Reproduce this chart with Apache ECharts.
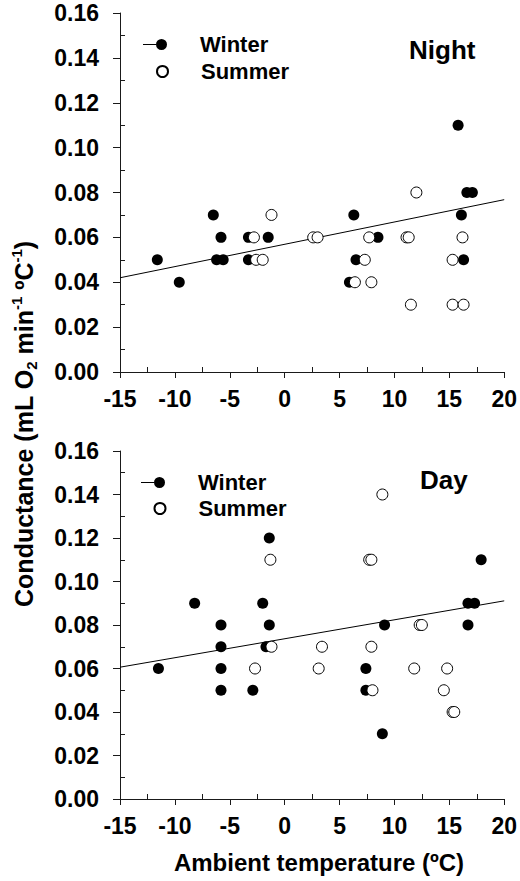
<!DOCTYPE html>
<html>
<head>
<meta charset="utf-8">
<script src="https://cdn.jsdelivr.net/npm/echarts@6/dist/echarts.min.js"></script>
<style>
html,body{margin:0;padding:0;background:#fff;}
#chart{width:520px;height:881px;}
</style>
</head>
<body>
<div id="chart"></div>
<script>
// ---- data ----
var xTicks = [-15, -10, -5, 0, 5, 10, 15, 20];
var yTicks = [0, 0.02, 0.04, 0.06, 0.08, 0.10, 0.12, 0.14, 0.16];

var nightWinterT = [-11.6, -9.6, -6.5, -5.8, -6.2, -5.6, -3.3, -3.3, -1.5, 6.3, 6.5, 5.9, 8.5, 15.8, 16.1, 16.3, 16.6, 17.1];
var nightWinterG = [0.05, 0.04, 0.07, 0.06, 0.05, 0.05, 0.06, 0.05, 0.06, 0.07, 0.05, 0.04, 0.06, 0.11, 0.07, 0.05, 0.08, 0.08];
var nightSummerT = [-2.8, -2.6, -2.0, -1.2, 2.6, 3.0, 6.4, 7.3, 7.7, 7.9, 11.1, 11.3, 12.0, 11.5, 15.3, 16.2, 15.3, 16.3];
var nightSummerG = [0.06, 0.05, 0.05, 0.07, 0.06, 0.06, 0.04, 0.05, 0.06, 0.04, 0.06, 0.06, 0.08, 0.03, 0.05, 0.06, 0.03, 0.03];
var nightFitT = [-15, 20];
var nightFitG = [0.042, 0.0768];

var dayWinterT = [-11.5, -8.2, -5.8, -5.8, -5.8, -5.8, -2.9, -2.0, -1.4, -1.4, -1.7, 7.4, 7.4, 9.1, 8.9, 16.7, 17.3, 16.7, 17.9];
var dayWinterG = [0.06, 0.09, 0.08, 0.07, 0.06, 0.05, 0.05, 0.09, 0.08, 0.12, 0.07, 0.06, 0.05, 0.08, 0.03, 0.09, 0.09, 0.08, 0.11];
var daySummerT = [-2.7, -1.2, 3.4, 3.1, 7.9, 8.0, 11.8, 12.3, 12.5, 14.8, 14.5, 15.3, 15.45, -1.3, 7.7, 7.9, 8.9];
var daySummerG = [0.06, 0.07, 0.07, 0.06, 0.07, 0.05, 0.06, 0.08, 0.08, 0.06, 0.05, 0.04, 0.04, 0.11, 0.11, 0.11, 0.14];
var dayFitT = [-15, 20];
var dayFitG = [0.0606, 0.0911];

var panelTitles = ['Night', 'Day'];
var seriesNames = ['Winter', 'Summer'];

// ---- build ----
function zip(a, b) { return a.map(function (v, i) { return [v, b[i]]; }); }
var FONT = 'Liberation Sans, Arial, sans-serif';
var AX = '#1a1a1a';

function xAxisCfg(gi) {
  return {
    type: 'value', gridIndex: gi, min: xTicks[0], max: xTicks[xTicks.length - 1], interval: 5,
    axisLine: { show: true, onZero: false, lineStyle: { color: AX, width: 1 } },
    axisTick: { show: true, length: 6, lineStyle: { color: AX } },
    minorTick: { show: true, splitNumber: 2, length: -5, lineStyle: { color: AX } },
    splitLine: { show: false },
    axisLabel: { color: '#000', fontFamily: FONT, fontWeight: 'bold', fontSize: 23, margin: 15 }
  };
}
function yAxisCfg(gi) {
  return {
    type: 'value', gridIndex: gi, min: yTicks[0], max: yTicks[yTicks.length - 1], interval: 0.02,
    axisLine: { show: true, onZero: false, lineStyle: { color: AX, width: 1 } },
    axisTick: { show: true, length: 7, lineStyle: { color: AX } },
    minorTick: { show: true, splitNumber: 2, length: -5, lineStyle: { color: AX } },
    splitLine: { show: false },
    axisLabel: { color: '#000', fontFamily: FONT, fontWeight: 'bold', fontSize: 23, margin: 21,
      formatter: function (v) { return v.toFixed(2); } }
  };
}
function winterSeries(gi, t, g) {
  return { name: seriesNames[0], type: 'scatter', xAxisIndex: gi, yAxisIndex: gi, data: zip(t, g),
    symbol: 'circle', symbolSize: 11, itemStyle: { color: '#000', opacity: 1 }, z: 3 };
}
function summerSeries(gi, t, g) {
  return { name: seriesNames[1], type: 'scatter', xAxisIndex: gi, yAxisIndex: gi, data: zip(t, g),
    symbol: 'circle', symbolSize: 11, itemStyle: { color: '#fff', borderColor: '#000', borderWidth: 1, opacity: 1 }, z: 4 };
}
function fitSeries(gi, t, g) {
  return { name: 'fit' + gi, type: 'line', xAxisIndex: gi, yAxisIndex: gi, data: zip(t, g),
    symbol: 'none', lineStyle: { color: '#000', width: 1 }, z: 2, silent: true };
}
var winterIcon = 'path://M0,5L13,5L13,6L0,6Z M13,5.5a5.5,5.5 0 1,0 11,0a5.5,5.5 0 1,0 -11,0Z';
function legendCfg(name, icon, left, top, w) {
  return {
    data: [name], left: left, top: top, padding: 0, icon: icon, itemWidth: w, itemHeight: 11,
    selectedMode: false,
    textStyle: { color: '#000', fontFamily: FONT, fontWeight: 'bold', fontSize: 22, padding: [4, 0, 0, 28] }
  };
}

var option = {
  animation: false,
  backgroundColor: '#fff',
  grid: [
    { left: 120, top: 13, width: 385, height: 359 },
    { left: 120, top: 451, width: 385, height: 348 }
  ],
  xAxis: [xAxisCfg(0), xAxisCfg(1)],
  yAxis: [yAxisCfg(0), yAxisCfg(1)],
  title: [
    { text: panelTitles[0], left: 409, top: 37, padding: 0,
      textStyle: { color: '#000', fontFamily: FONT, fontWeight: 'bold', fontSize: 26 } },
    { text: panelTitles[1], left: 420, top: 467, padding: 0,
      textStyle: { color: '#000', fontFamily: FONT, fontWeight: 'bold', fontSize: 26 } }
  ],
  legend: [
    legendCfg(seriesNames[0], winterIcon, 143, 33.5, 24),
    legendCfg(seriesNames[1], 'circle', 156, 60.5, 11),
    legendCfg(seriesNames[0], winterIcon, 141, 471.5, 24),
    legendCfg(seriesNames[1], 'circle', 153.5, 497.5, 11)
  ],
  series: [
    fitSeries(0, nightFitT, nightFitG),
    winterSeries(0, nightWinterT, nightWinterG),
    summerSeries(0, nightSummerT, nightSummerG),
    fitSeries(1, dayFitT, dayFitG),
    winterSeries(1, dayWinterT, dayWinterG),
    summerSeries(1, daySummerT, daySummerG)
  ],
  graphic: [
    { type: 'text', x: 24, y: 424, rotation: Math.PI / 2,
      style: {
        text: '{m|Conductance (mL O}{sub|2}{m| min}{sup|-1}{m| º}{m|C}{sup|-1}{m|)}',
        align: 'center', verticalAlign: 'middle', fill: '#000',
        rich: {
          m: { fontFamily: FONT, fontWeight: 'bold', fontSize: 25, lineHeight: 30, verticalAlign: 'middle', fill: '#000' },
          sub: { fontFamily: FONT, fontWeight: 'bold', fontSize: 15, lineHeight: 14, verticalAlign: 'bottom', fill: '#000' },
          sup: { fontFamily: FONT, fontWeight: 'bold', fontSize: 15, lineHeight: 14, verticalAlign: 'top', fill: '#000' }
        }
      } },
    { type: 'text', x: 319, y: 862,
      style: { text: 'Ambient temperature (ºC)', align: 'center', verticalAlign: 'middle', fill: '#000',
        font: 'bold 24px ' + FONT } }
  ]
};

var chart = echarts.init(document.getElementById('chart'), null, { renderer: 'svg' });
chart.setOption(option);
</script>
</body>
</html>
